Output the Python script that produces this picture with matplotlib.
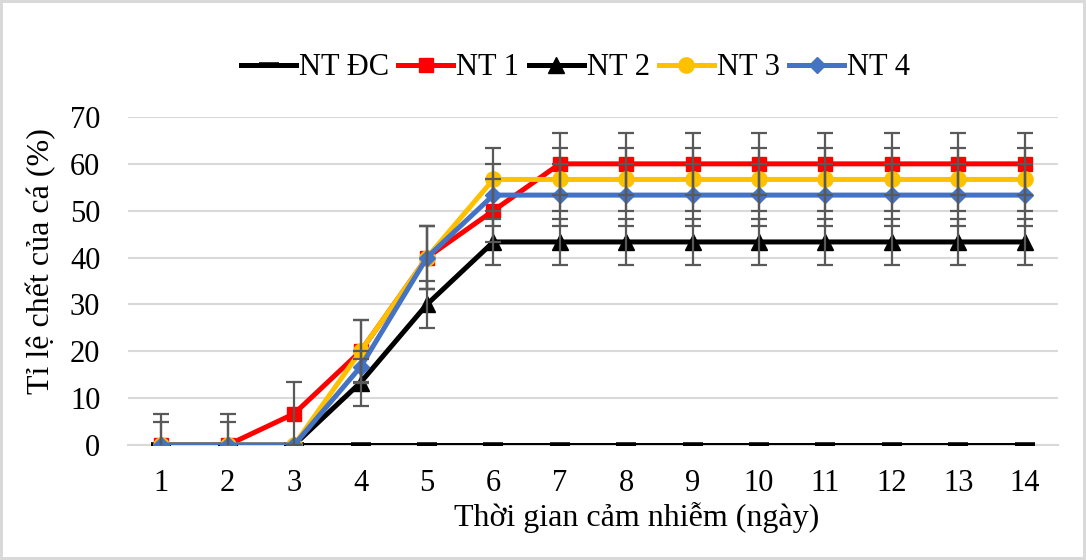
import numpy as np
import matplotlib.pyplot as plt

plt.rcParams['font.family'] = ['Liberation Serif', 'DejaVu Serif']

days = list(range(1, 15))
labels = ['NT ĐC', 'NT 1', 'NT 2', 'NT 3', 'NT 4']

nt_dc = [0] * 14
nt1 = [0, 0, 6.67, 20, 40, 50] + [60] * 8
nt2 = [0, 0, 0, 13.33, 30] + [43.33] * 9
nt3 = [0, 0, 0, 20, 40] + [56.67] * 9
nt4 = [0, 0, 0, 16.67, 40] + [53.33] * 9

err_dc = [0] * 14
err1 = [6.67] * 14
err2 = [5, 5, 0] + [5] * 11
err3 = [0, 0, 0] + [6.67] * 11
err4 = [0, 0, 0, 3.33] + [6.67] * 10

series = [nt_dc, nt1, nt2, nt3, nt4]
errors = [err_dc, err1, err2, err3, err4]
colors = ['black', '#ff0000', 'black', '#ffc000', '#4472c4']
markers = ['_', 's', '^', 'o', 'D']
msizes = [14, 10, 11, 11, 8]

fig = plt.figure(figsize=(10.86, 5.6), dpi=100)
fig.patch.set_edgecolor('#d9d9d9')
fig.patch.set_linewidth(3)
ax = fig.add_axes([0.118, 0.2054, 0.856, 0.5857])

for y, e, c, m, ms, lab in zip(series, errors, colors, markers, msizes, labels):
    mew = 4 if m == '_' else 1
    ax.plot(days, y, color=c, lw=3.6, marker=m, markersize=ms,
            markeredgewidth=mew, label=lab, zorder=3)

for y, e in zip(series[1:], errors[1:]):
    y = np.array(y)
    e = np.array(e)
    mask = e > 0
    ax.errorbar(np.array(days)[mask], y[mask], yerr=e[mask], fmt='none',
                ecolor='#595959', elinewidth=1.6, capsize=6, capthick=1.6,
                zorder=4)

ax.set_xlim(0.5, 14.5)
ax.set_ylim(0, 70)
ax.set_xticks(days)
ax.set_yticks(range(0, 71, 10))
ax.tick_params(axis='both', length=0, labelsize=22)
ax.tick_params(axis='x', pad=17)
ax.tick_params(axis='y', pad=20)
ax.grid(axis='y', color='#d9d9d9', lw=1.5, zorder=0)
ax.set_axisbelow(True)
for s in ['top', 'right', 'left']:
    ax.spines[s].set_visible(False)
ax.spines['bottom'].set_color('#d9d9d9')
ax.spines['bottom'].set_linewidth(1.5)

ax.set_xlabel('Thời gian cảm nhiễm (ngày)', fontsize=23, labelpad=6)
ax.xaxis.set_label_coords(0.547, -0.175)
ax.set_ylabel('Tỉ lệ chết của cá (%)', fontsize=23)
ax.yaxis.set_label_coords(-0.077, 0.56)

handles, labs = ax.get_legend_handles_labels()
fig.legend(handles, labs, loc='center', bbox_to_anchor=(0.53, 0.879), ncol=5,
           frameon=False, fontsize=22, handlelength=1.8, handletextpad=0.1,
           columnspacing=0.3)

fig.savefig('out.png', dpi=100)
